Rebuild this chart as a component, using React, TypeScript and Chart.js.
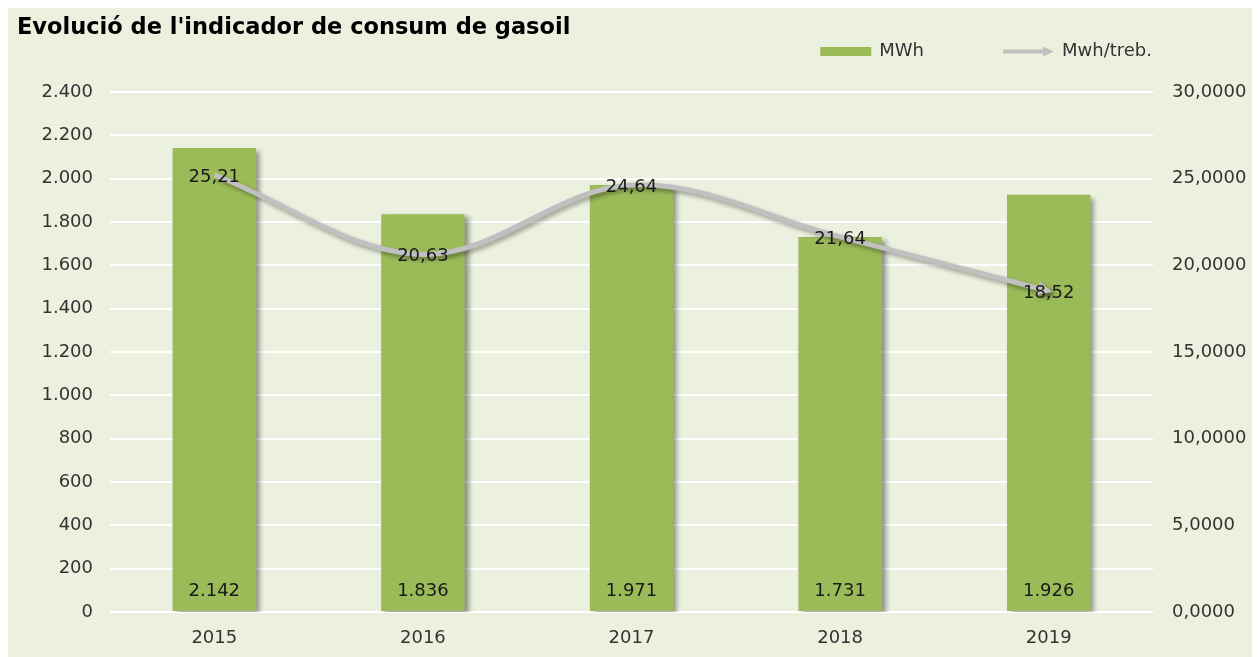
import React, { useEffect, useRef } from 'react';
import { Chart, registerables } from 'chart.js';

Chart.register(...registerables);

const chartTitle = "Evolució de l'indicador de consum de gasoil";
const years = ['2015', '2016', '2017', '2018', '2019'];
const mwh = [2142, 1836, 1971, 1731, 1926];
const mwhPerWorker = [25.21, 20.63, 24.64, 21.64, 18.52];
const seriesNames = ['MWh', 'Mwh/treb.'];
const leftAxis = { min: 0, max: 2400, step: 200 };
const rightAxis = { min: 0, max: 30, step: 5 };

const FONT = "'DejaVu Sans', Verdana, sans-serif";
const BG = '#ebf1de';
const GREEN = '#9bbb59';
const GREY = '#c0c0c0';
const TEXT = '#333333';
const FS = 18;

const fmtThousands = (n: number) => String(Math.round(n)).replace(/\B(?=(\d{3})+(?!\d))/g, '.');
const fmtDec = (n: number, d: number) => n.toFixed(d).replace('.', ',');

function drawArrowHead(ctx: CanvasRenderingContext2D, x: number, y: number, ang: number, len: number, half: number, color: string) {
  ctx.save();
  ctx.translate(x, y);
  ctx.rotate(ang);
  ctx.beginPath();
  ctx.moveTo(0, 0);
  ctx.lineTo(-len, -half);
  ctx.lineTo(-len, half);
  ctx.closePath();
  ctx.fillStyle = color;
  ctx.fill();
  ctx.restore();
}

const shadowPlugin = {
  id: 'shadows',
  beforeDatasetDraw(chart: any, args: any) {
    const ctx = chart.ctx;
    ctx.save();
    if (args.index === 0) {
      ctx.shadowColor = 'rgba(0,0,0,0.4)';
      ctx.shadowBlur = 5;
      ctx.shadowOffsetX = 4;
      ctx.shadowOffsetY = 3;
    } else {
      ctx.shadowColor = 'rgba(0,0,0,0.35)';
      ctx.shadowBlur = 4;
      ctx.shadowOffsetX = 3;
      ctx.shadowOffsetY = 3;
    }
  },
  afterDatasetDraw(chart: any, args: any) {
    const ctx = chart.ctx;
    if (args.index === 1) {
      const pts = args.meta.data;
      const p = pts[pts.length - 1];
      const q = pts[pts.length - 2];
      let cx = p.cp1x, cy = p.cp1y;
      if (cx === undefined || (cx === p.x && cy === p.y)) { cx = q.x; cy = q.y; }
      const ang = Math.atan2(p.y - cy, p.x - cx);
      const tipX = p.x + Math.cos(ang) * 4;
      const tipY = p.y + Math.sin(ang) * 4;
      drawArrowHead(ctx, tipX, tipY, ang, 15, 7, GREY);
    }
    ctx.restore();
  },
};

const labelsPlugin = {
  id: 'valueLabels',
  afterDatasetsDraw(chart: any) {
    const ctx = chart.ctx;
    ctx.save();
    ctx.font = `${FS}px ${FONT}`;
    ctx.textAlign = 'center';
    ctx.textBaseline = 'middle';
    ctx.fillStyle = '#1a1a1a';
    const barMeta = chart.getDatasetMeta(0);
    barMeta.data.forEach((el: any, i: number) => {
      ctx.fillText(fmtThousands(chart.data.datasets[0].data[i]), el.x, el.base - 20);
    });
    const lineMeta = chart.getDatasetMeta(1);
    lineMeta.data.forEach((el: any, i: number) => {
      ctx.fillText(fmtDec(chart.data.datasets[1].data[i], 2), el.x, el.y + 2);
    });
    ctx.restore();
  },
};

const legendPlugin = {
  id: 'customLegend',
  afterDraw(chart: any) {
    const ctx = chart.ctx;
    const ds = chart.data.datasets;
    ctx.save();
    ctx.font = `${FS}px ${FONT}`;
    ctx.textBaseline = 'middle';
    ctx.textAlign = 'left';
    const cy = 45.5;
    const sym = 51;
    const gap = 8;
    const itemGap = 79;
    let x = chart.chartArea.right - 1;
    for (let i = ds.length - 1; i >= 0; i--) {
      const w = ctx.measureText(ds[i].label).width;
      const tx = x - w;
      ctx.fillStyle = TEXT;
      ctx.fillText(ds[i].label, tx, cy);
      const sx = tx - gap - sym;
      if (ds[i].type === 'line') {
        ctx.strokeStyle = GREY;
        ctx.lineWidth = 4;
        ctx.beginPath();
        ctx.moveTo(sx, cy);
        ctx.lineTo(sx + sym - 9, cy);
        ctx.stroke();
        drawArrowHead(ctx, sx + sym, cy, 0, 11, 5, GREY);
      } else {
        ctx.fillStyle = ds[i].backgroundColor;
        ctx.fillRect(sx, cy - 4.5, sym, 9);
      }
      x = sx - itemGap;
    }
    ctx.restore();
  },
};

export default function App() {
  const ref = useRef<HTMLCanvasElement | null>(null);
  useEffect(() => {
    if (!ref.current) return;
    const chart = new Chart(ref.current, {
      type: 'bar',
      data: {
        labels: years,
        datasets: [
          {
            type: 'bar',
            label: seriesNames[0],
            data: mwh,
            backgroundColor: GREEN,
            barPercentage: 0.4,
            categoryPercentage: 1.0,
            yAxisID: 'y',
            order: 2,
          },
          {
            type: 'line',
            label: seriesNames[1],
            data: mwhPerWorker,
            borderColor: GREY,
            backgroundColor: GREY,
            borderWidth: 5,
            tension: 0.35,
            pointRadius: 0,
            pointHoverRadius: 0,
            fill: false,
            yAxisID: 'y1',
            order: 1,
          },
        ],
      } as any,
      options: {
        animation: false,
        responsive: true,
        maintainAspectRatio: false,
        layout: { padding: { left: 9, right: 0, top: 0, bottom: 0 } },
        plugins: {
          legend: { display: false },
          tooltip: { enabled: false },
          title: {
            display: true,
            text: chartTitle,
            align: 'start',
            color: '#000000',
            font: { family: FONT, size: 22.5, weight: 'bold' },
            padding: { top: 9, bottom: 50 },
          },
        },
        scales: {
          x: {
            grid: { display: false },
            border: { display: false },
            ticks: { color: TEXT, font: { family: FONT, size: FS }, padding: 8 },
            afterFit: (s: any) => { s.height = 45; },
          },
          y: {
            position: 'left',
            min: leftAxis.min,
            max: leftAxis.max,
            ticks: {
              stepSize: leftAxis.step,
              color: TEXT,
              font: { family: FONT, size: FS },
              padding: 17,
              callback: (v: any) => fmtThousands(Number(v)),
            },
            grid: { color: '#ffffff', lineWidth: 2, drawTicks: false },
            border: { display: false },
            afterFit: (s: any) => { s.width = 93; },
          },
          y1: {
            position: 'right',
            min: rightAxis.min,
            max: rightAxis.max,
            ticks: {
              stepSize: rightAxis.step,
              color: TEXT,
              font: { family: FONT, size: FS },
              padding: 19,
              callback: (v: any) => fmtDec(Number(v), 4),
            },
            grid: { drawOnChartArea: false, drawTicks: false },
            border: { display: false },
            afterFit: (s: any) => { s.width = 100; },
          },
        },
      } as any,
      plugins: [shadowPlugin, labelsPlugin, legendPlugin],
    });
    return () => chart.destroy();
  }, []);

  return (
    <div style={{ marginTop: -2, width: 1245, height: 651, background: BG, position: 'relative' }}>
      <canvas ref={ref} />
    </div>
  );
}
